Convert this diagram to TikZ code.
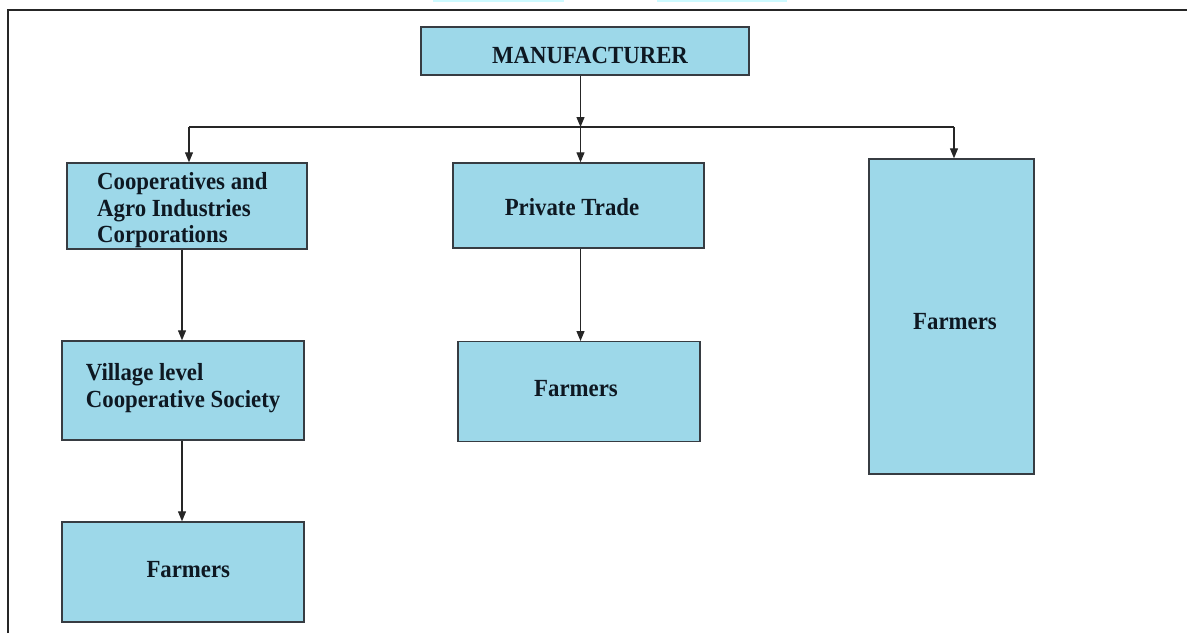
\documentclass[tikz,border=0pt]{standalone}
\usepackage{fontspec}
\setmainfont{Liberation Serif}
\usetikzlibrary{arrows.meta}
\definecolor{boxfill}{RGB}{157,216,233}
\definecolor{boxline}{RGB}{55,60,66}
\definecolor{txtcol}{RGB}{14,24,34}
\definecolor{topcyan}{RGB}{205,250,255}
\tikzset{
  box/.style={draw=boxline, line width=1.4pt, fill=boxfill, inner sep=0pt},
  txt/.style={text=txtcol, inner sep=0pt, yscale=1.08, font=\fontsize{22.8}{27}\selectfont\bfseries},
  conn/.style={draw=black!85, line width=1.2pt},
  arr/.style={conn, -{Triangle[width=8pt,length=10pt]}},
}
\begin{document}
\begin{tikzpicture}[x=1pt,y=-1pt]
\useasboundingbox (0,0) rectangle (1187,633);
% cropped frame and top fragments
\fill[topcyan] (433,0) rectangle (564,2.2);
\fill[topcyan] (657,0) rectangle (787,2.2);
\draw[black!85, line width=1.4pt] (8,633) -- (8,10) -- (1187,10);

% boxes
\node[box, minimum width=328pt, minimum height=48pt] (man) at (585,51) {};
\node[box, minimum width=240pt, minimum height=86pt] (coop) at (187,206) {};
\node[box, minimum width=251pt, minimum height=85pt] (priv) at (578.5,205.5) {};
\node[box, minimum width=165pt, minimum height=315pt] (farm3) at (951.5,316.5) {};
\node[box, minimum width=242pt, minimum height=99pt] (vil) at (183,390.5) {};
\node[box, minimum width=242pt, minimum height=100pt] (farm2) at (579,391.7) {};
\node[box, minimum width=242pt, minimum height=100pt] (farm1) at (183,572) {};

% texts
\node[txt, anchor=base] (mant) at (590,63.3) {MANUFACTURER};
\node[txt, anchor=base west] (coopt1) at (97,189.3) {Cooperatives and};
\node[txt, anchor=base west] (coopt2) at (97,216) {Agro Industries};
\node[txt, anchor=base west] (coopt3) at (97,242.7) {Corporations};
\node[txt, anchor=base] (privt) at (572,215) {Private Trade};
\node[txt, anchor=base] (farm3t) at (955,329.3) {Farmers};
\node[txt, anchor=base west] (vilt1) at (85.7,380.7) {Village level};
\node[txt, anchor=base west] (vilt2) at (85.7,407.3) {Cooperative Society};
\node[txt, anchor=base] (farm2t) at (576,396.7) {Farmers};
\node[txt, anchor=base] (farm1t) at (188.3,577.3) {Farmers};

% junction coordinates
\coordinate (j) at (580.5,127);
\coordinate (jl) at (189,127);
\coordinate (jr) at (954,127);
\coordinate (lx) at (182,0);

% connectors
\draw[arr] (j |- man.south) -- (j);
\draw[conn] (jl) -- (jr);
\draw[arr] (jl) -- (jl |- coop.north);
\draw[arr] (j) -- (j |- priv.north);
\draw[arr] (jr) -- (jr |- farm3.north);
\draw[arr] (lx |- coop.south) -- (lx |- vil.north);
\draw[arr] (lx |- vil.south) -- (lx |- farm1.north);
\draw[arr] (j |- priv.south) -- (j |- farm2.north);
\end{tikzpicture}
\end{document}
